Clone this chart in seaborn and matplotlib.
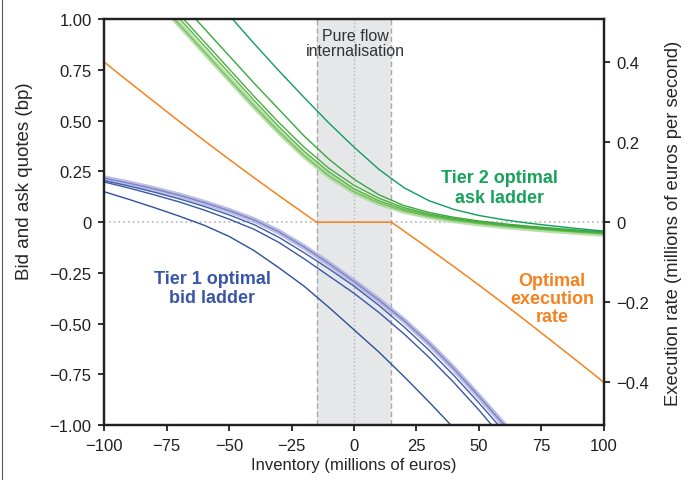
import numpy as np
import pandas as pd
import seaborn as sns
import matplotlib.pyplot as plt
from matplotlib.lines import Line2D

nan = np.nan

# inventory grid (millions of euros)
inventory = [-100, -90, -80, -70, -60, -50, -40, -30, -20, -10, 0,
             10, 20, 30, 40, 50, 60, 70, 80, 90, 100]

# Tier 1 bid ladder (bp)
bid_dark = [0.150, 0.112, 0.072, 0.030, -0.015, -0.070, -0.140, -0.225, -0.315, -0.420, -0.530,
            -0.640, -0.760, -0.885, -1.015, nan, nan, nan, nan, nan, nan]
bid_mid2 = [0.198, 0.168, 0.135, 0.100, 0.060, 0.015, -0.035, -0.100, -0.180, -0.265, -0.350,
            -0.445, -0.550, -0.665, -0.790, -0.925, -1.070, nan, nan, nan, nan]
bid_mid1 = [0.205, 0.178, 0.148, 0.115, 0.078, 0.036, -0.012, -0.075, -0.150, -0.230, -0.315,
            -0.410, -0.515, -0.630, -0.755, -0.890, -1.030, nan, nan, nan, nan]
bid_band = [0.217, 0.192, 0.164, 0.133, 0.097, 0.057, 0.011, -0.048, -0.122, -0.204, -0.292,
            -0.384, -0.484, -0.597, -0.722, -0.858, -0.997, -1.140, nan, nan, nan]

# Tier 2 ask ladder (bp)
ask_dark = [nan, nan, nan, nan, nan, 1.020, 0.880, 0.745, 0.615, 0.488, 0.370,
            0.260, 0.170, 0.106, 0.063, 0.033, 0.012, -0.005, -0.019, -0.032, -0.044]
ask_mid1 = [nan, nan, nan, 1.090, 0.955, 0.820, 0.685, 0.555, 0.425, 0.310, 0.212,
            0.135, 0.082, 0.048, 0.024, 0.006, -0.008, -0.020, -0.030, -0.040, -0.048]
ask_mid2 = [nan, nan, nan, 1.025, 0.890, 0.755, 0.620, 0.490, 0.370, 0.265, 0.182,
            0.118, 0.072, 0.040, 0.018, 0.001, -0.013, -0.025, -0.035, -0.044, -0.052]
ask_mid3 = [nan, nan, 1.140, 1.005, 0.870, 0.735, 0.600, 0.470, 0.350, 0.248, 0.165,
            0.105, 0.063, 0.034, 0.013, -0.003, -0.017, -0.028, -0.038, -0.047, -0.055]
ask_band = [nan, nan, 1.110, 0.975, 0.840, 0.705, 0.572, 0.445, 0.328, 0.228, 0.150,
            0.094, 0.055, 0.028, 0.008, -0.007, -0.020, -0.031, -0.041, -0.050, -0.058]

# optimal execution rate (millions of euros per second)
rate_inventory = [-100, -90, -80, -70, -60, -50, -40, -30, -20, -15,
                  15, 20, 30, 40, 50, 60, 70, 80, 90, 100]
rate = [0.400, 0.350, 0.301, 0.252, 0.204, 0.157, 0.111, 0.066, 0.022, 0.0,
        0.0, -0.022, -0.066, -0.111, -0.157, -0.204, -0.252, -0.301, -0.350, -0.400]

x_ticks = [-100, -75, -50, -25, 0, 25, 50, 75, 100]
x_labels = ['\u2212100', '\u221275', '\u221250', '\u221225', '0', '25', '50', '75', '100']
left_ticks = [1.0, 0.75, 0.5, 0.25, 0, -0.25, -0.5, -0.75, -1.0]
left_labels = ['1.00', '0.75', '0.50', '0.25', '0', '\u22120.25', '\u22120.50', '\u22120.75', '\u22121.00']
right_ticks = [0.4, 0.2, 0, -0.2, -0.4]
right_labels = ['0.4', '0.2', '0', '\u22120.2', '\u22120.4']

sns.set_style("ticks")
plt.rcParams['font.family'] = ['Liberation Sans', 'DejaVu Sans']


def draw(a, xs, ys, color, lw, alpha=1.0):
    d = pd.DataFrame({'x': xs, 'y': ys}).dropna()
    sns.lineplot(data=d, x='x', y='y', ax=a, color=color, lw=lw, alpha=alpha,
                 estimator=None, sort=False)


fig = plt.figure(figsize=(6.9, 4.81), dpi=100)
ax = fig.add_axes([0.151, 0.114, 0.724, 0.844])

# internalisation zone
ax.axvspan(-15, 15, color='#e6e7e9', lw=0, zorder=0)
ax.axvline(-15, color='#a9a9a9', ls=(0, (4, 2)), lw=1.0, zorder=1)
ax.axvline(15, color='#a9a9a9', ls=(0, (4, 2)), lw=1.0, zorder=1)
ax.axvline(0, color='#b5b5b5', ls=':', lw=1.0, zorder=1)
ax.axhline(0, color='#bdbdbd', ls=':', lw=1.3, zorder=1)

# bid ladder
draw(ax, inventory, bid_band, '#b6b7e0', 4.0, 0.9)
draw(ax, inventory, bid_band, '#7d84c6', 1.0)
draw(ax, inventory, bid_mid1, '#3f5db0', 1.0)
draw(ax, inventory, bid_mid2, '#3558a8', 1.0)
draw(ax, inventory, bid_dark, '#2c4f9e', 1.0)

# ask ladder
draw(ax, inventory, ask_band, '#b0dca0', 4.0, 0.9)
draw(ax, inventory, ask_band, '#78c060', 1.0)
draw(ax, inventory, ask_mid3, '#5bb64a', 1.0)
draw(ax, inventory, ask_mid2, '#4aae3e', 1.0)
draw(ax, inventory, ask_mid1, '#38a83c', 1.0)
draw(ax, inventory, ask_dark, '#0f9d5c', 1.0)

ax.set_xlim(-100, 100)
ax.set_ylim(-1.0, 1.0)
ax.set_xticks(x_ticks)
ax.set_xticklabels(x_labels)
ax.set_yticks(left_ticks)
ax.set_yticklabels(left_labels)
ax.set_xlabel('Inventory (millions of euros)', fontsize=12)
ax.set_ylabel('Bid and ask quotes (bp)', fontsize=13.5)
ax.xaxis.set_label_coords(0.5, -0.079)
ax.yaxis.set_label_coords(-0.142, 0.603)

# execution rate on right axis
ax2 = ax.twinx()
draw(ax2, rate_inventory, rate, '#f5821f', 1.1)
ax2.set_ylim(-0.507, 0.507)
ax2.set_yticks(right_ticks)
ax2.set_yticklabels(right_labels)
ax2.set_ylabel('Execution rate (millions of euros per second)', fontsize=13.3)
ax2.yaxis.set_label_coords(1.122, 0.5)
ax2.set_xlim(-100, 100)

for a in (ax, ax2):
    a.tick_params(direction='out', length=4, width=1.3, pad=5, labelsize=12, colors='#231f20')
    for s in a.spines.values():
        s.set_linewidth(1.6)
        s.set_color('#231f20')

ax.text(0.5, 0.885, 'Pure flow\ninternalisation', ha='center', va='center',
        fontsize=11.5, color='#333333', linespacing=1.0)
ax.text(58.4, 0.17, 'Tier 2 optimal\nask ladder', ha='center', va='center',
        fontsize=13, fontweight='bold', color='#17a35a', linespacing=1.2)
ax.text(-56.8, -0.325, 'Tier 1 optimal\nbid ladder', ha='center', va='center',
        fontsize=13, fontweight='bold', color='#3a56a8', linespacing=1.2)
ax.text(79.2, -0.375, 'Optimal\nexecution\nrate', ha='center', va='center',
        fontsize=13, fontweight='bold', color='#f5821f', linespacing=1.1)

# thin frame line at the left edge of the panel
fig.add_artist(Line2D([0.003, 0.003], [0, 1], transform=fig.transFigure,
                      color='#555555', lw=0.8))

fig.savefig('out.png', dpi=100)
